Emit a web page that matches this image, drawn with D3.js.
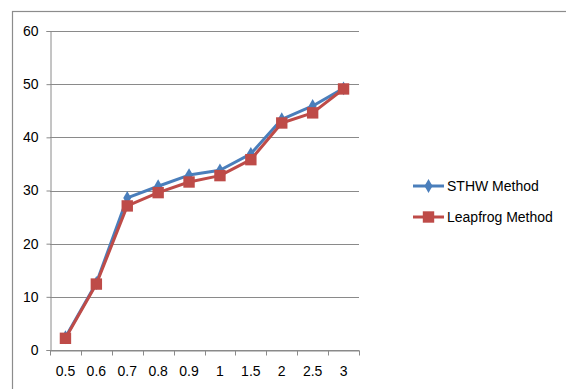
<!DOCTYPE html>
<html>
<head>
<meta charset="utf-8">
<script src="https://cdn.jsdelivr.net/npm/d3@7"></script>
<style>
  body { margin: 0; background: #fff; }
  svg { display: block; font-family: "Liberation Sans Narrow", "Liberation Sans", Arial, sans-serif; }
</style>
</head>
<body>
<div id="chart"></div>
<script>
const categories = ["0.5", "0.6", "0.7", "0.8", "0.9", "1", "1.5", "2", "2.5", "3"];
const sthwValues = [2.4, 12.6, 28.6, 30.8, 32.9, 33.8, 36.9, 43.4, 45.9, 49.2];
const leapfrogValues = [2.2, 12.4, 27.1, 29.6, 31.6, 32.8, 35.8, 42.7, 44.6, 49.1];
const yTicks = [0, 10, 20, 30, 40, 50, 60];

const series = [
    { name: "STHW Method", values: sthwValues, color: "#4A7EBB", shape: d3.symbolDiamond, size: 55 },
    { name: "Leapfrog Method", values: leapfrogValues, color: "#BE4B48", shape: d3.symbolSquare, size: 130 }
];

const W = 566, H = 389;
const margin = { top: 31, right: 207, bottom: 39, left: 50 };

const svg = d3.select("#chart").append("svg")
    .attr("width", W)
    .attr("height", H);

// outer chart frame (cropped on the right and bottom)
svg.append("rect")
    .attr("x", 12.5).attr("y", 11.5)
    .attr("width", W).attr("height", H)
    .attr("fill", "none")
    .attr("stroke", "#8c8c8c")
    .attr("stroke-width", 1.2);

const x = d3.scaleBand()
    .domain(categories)
    .range([margin.left, W - margin.right]);

const y = d3.scaleLinear()
    .domain([0, 60])
    .range([H - margin.bottom, margin.top]);

// gridlines
svg.append("g")
    .selectAll("line")
    .data(yTicks)
    .enter()
    .append("line")
    .attr("x1", margin.left)
    .attr("x2", W - margin.right)
    .attr("y1", d => Math.round(y(d)) + 0.5)
    .attr("y2", d => Math.round(y(d)) + 0.5)
    .attr("stroke", "#8a8a8a")
    .attr("stroke-width", 1);

// y axis
const yAxis = svg.append("g")
    .attr("transform", `translate(${margin.left + 0.5},0)`)
    .call(d3.axisLeft(y).tickValues(yTicks).tickSize(4).tickPadding(8));
yAxis.select(".domain").attr("stroke", "#8a8a8a");
yAxis.selectAll(".tick line").attr("stroke", "#8a8a8a");
yAxis.selectAll("text").style("font-size", "14px").attr("fill", "#000");

// x axis
const xAxis = svg.append("g")
    .attr("transform", `translate(0,${Math.round(y(0)) + 0.5})`)
    .call(d3.axisBottom(x).tickSize(0).tickPadding(16));
xAxis.select(".domain").attr("stroke", "#8a8a8a");
xAxis.selectAll("text").style("font-size", "14px").attr("fill", "#000");

// x tick marks at band boundaries
const bounds = categories.map(c => x(c)).concat([x.range()[1]]);
xAxis.selectAll(".bound")
    .data(bounds)
    .enter()
    .append("line")
    .attr("class", "bound")
    .attr("x1", d => Math.round(d) + 0.5)
    .attr("x2", d => Math.round(d) + 0.5)
    .attr("y1", 0)
    .attr("y2", 5)
    .attr("stroke", "#8a8a8a");

const line = d3.line()
    .x((d, i) => x(categories[i]) + x.bandwidth() / 2)
    .y(d => y(d));

series.forEach(s => {
    svg.append("path")
        .datum(s.values)
        .attr("d", line)
        .attr("fill", "none")
        .attr("stroke", s.color)
        .attr("stroke-width", 3)
        .attr("stroke-linejoin", "round");

    svg.append("g")
        .selectAll("path")
        .data(s.values)
        .enter()
        .append("path")
        .attr("d", d3.symbol().type(s.shape).size(s.size))
        .attr("transform", (d, i) => `translate(${x(categories[i]) + x.bandwidth() / 2},${y(d)})`)
        .attr("fill", s.color);
});

// legend
const legend = svg.append("g")
    .selectAll("g")
    .data(series)
    .enter()
    .append("g")
    .attr("transform", (d, i) => `translate(413,${186 + i * 31})`);

legend.append("line")
    .attr("x1", 0).attr("x2", 31)
    .attr("stroke", d => d.color)
    .attr("stroke-width", 3);

legend.append("path")
    .attr("d", d => d3.symbol().type(d.shape).size(d.size).call())
    .attr("transform", "translate(15.5,0)")
    .attr("fill", d => d.color);

legend.append("text")
    .attr("x", 34)
    .attr("dy", "0.35em")
    .style("font-size", "14px")
    .text(d => d.name);
</script>
</body>
</html>
